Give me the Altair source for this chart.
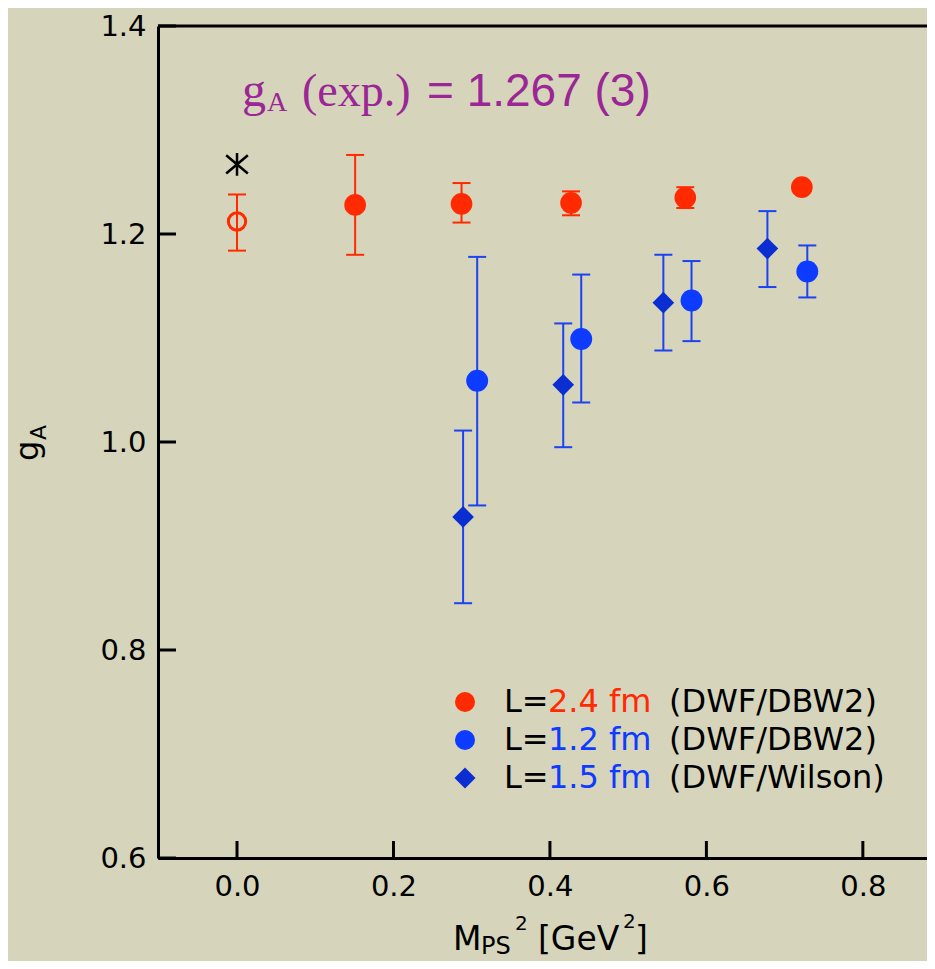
import altair as alt
import pandas as pd

# ---------------- data ----------------
red_x = [0.151, 0.287, 0.427, 0.573, 0.722]
red_y = [1.228, 1.229, 1.230, 1.235, 1.245]
red_lo = [1.180, 1.211, 1.218, 1.225, 1.245]
red_hi = [1.276, 1.249, 1.241, 1.245, 1.245]

extrap_x = [0.0]
extrap_y = [1.212]
extrap_lo = [1.184]
extrap_hi = [1.238]

exp_x = [0.0]
exp_y = [1.267]

blue_x = [0.307, 0.440, 0.581, 0.729]
blue_y = [1.059, 1.099, 1.136, 1.164]
blue_lo = [0.939, 1.038, 1.097, 1.139]
blue_hi = [1.178, 1.161, 1.174, 1.189]

dia_x = [0.289, 0.417, 0.545, 0.678]
dia_y = [0.928, 1.055, 1.134, 1.186]
dia_lo = [0.845, 0.995, 1.088, 1.149]
dia_hi = [1.011, 1.114, 1.180, 1.222]

x_ticks = [0.0, 0.2, 0.4, 0.6, 0.8]
y_ticks = [0.6, 0.8, 1.0, 1.2, 1.4]

# ---------------- layout ----------------
PL, PT = 158, 26          # page position of plot origin
W, H = 769, 832
X_DOM = [-0.101, 0.882]
Y_DOM = [0.6, 1.4]

RED = "#ff2a00"
BLUE = "#0d3bff"
BLUE_BAR = "#1c42f2"
DIA = "#0a2ed2"
PURPLE = "#9a2795"
BG = "#d6d5bb"
SANS = "DejaVu Sans"

xs = alt.Scale(domain=X_DOM, nice=False, zero=False)
ys = alt.Scale(domain=Y_DOM, nice=False, zero=False)

def frame(xv, yv, lo, hi):
    return pd.DataFrame({"x": xv, "y": yv, "lo": lo, "hi": hi})

red_df = frame(red_x, red_y, red_lo, red_hi)
ext_df = frame(extrap_x, extrap_y, extrap_lo, extrap_hi)
blue_df = frame(blue_x, blue_y, blue_lo, blue_hi)
dia_df = frame(dia_x, dia_y, dia_lo, dia_hi)
exp_df = pd.DataFrame({"x": exp_x, "y": exp_y})

# base layer carrying the axes
base = alt.Chart(red_df).mark_point(opacity=0).encode(
    x=alt.X("x:Q", scale=xs, axis=alt.Axis(
        values=x_ticks, format=".1f", ticks=False, grid=False,
        domainColor="black", domainWidth=3, labelFont=SANS, labelFontSize=29,
        labelColor="black", labelPadding=14, labelFlush=False, labelOverlap=False,
        title=None)),
    y=alt.Y("y:Q", scale=ys, axis=alt.Axis(
        values=y_ticks, format=".1f", ticks=False, grid=False,
        domainColor="black", domainWidth=3, labelFont=SANS, labelFontSize=29,
        labelColor="black", labelPadding=12, labelFlush=False, labelOverlap=False,
        title=None)),
)

# top border and inward ticks
top = alt.Chart(pd.DataFrame({"a": [X_DOM[0]], "b": [X_DOM[1]], "y": [Y_DOM[1]]})).mark_rule(
    color="black", strokeWidth=3).encode(
    x=alt.X("a:Q", scale=xs), x2="b:Q", y=alt.Y("y:Q", scale=ys))

xt = alt.Chart(pd.DataFrame({"t": x_ticks})).mark_rule(color="black", strokeWidth=3).encode(
    x=alt.X("t:Q", scale=xs), y=alt.value(H), y2=alt.value(H - 17))
yt = alt.Chart(pd.DataFrame({"t": y_ticks})).mark_rule(color="black", strokeWidth=3).encode(
    y=alt.Y("t:Q", scale=ys), x=alt.value(0), x2=alt.value(18))

def errbars(df, color):
    bar = alt.Chart(df).mark_rule(color=color, strokeWidth=2).encode(
        x=alt.X("x:Q", scale=xs), y=alt.Y("lo:Q", scale=ys), y2="hi:Q")
    cap_lo = alt.Chart(df).mark_tick(color=color, orient="horizontal", size=18, thickness=2, opacity=1).encode(
        x=alt.X("x:Q", scale=xs), y=alt.Y("lo:Q", scale=ys))
    cap_hi = alt.Chart(df).mark_tick(color=color, orient="horizontal", size=18, thickness=2, opacity=1).encode(
        x=alt.X("x:Q", scale=xs), y=alt.Y("hi:Q", scale=ys))
    return [bar, cap_lo, cap_hi]

def points(df, color, shape, size, filled=True, sw=0):
    return alt.Chart(df).mark_point(shape=shape, filled=filled, size=size, color=color,
                                    opacity=1, strokeWidth=sw).encode(
        x=alt.X("x:Q", scale=xs), y=alt.Y("y:Q", scale=ys))

ASTER = "M0,-1L0,1M-0.95,-0.8L0.95,0.8M-0.95,0.8L0.95,-0.8"

layers = [base, top, xt, yt]
layers += errbars(red_df, RED) + errbars(ext_df, RED) + errbars(blue_df, BLUE_BAR) + errbars(dia_df, BLUE_BAR)
layers += [
    points(red_df, RED, "circle", 470),
    points(blue_df, BLUE, "circle", 480),
    points(dia_df, DIA, "diamond", 470),
    points(ext_df, RED, "circle", 300, filled=False, sw=3),
    points(exp_df, "black", ASTER, 520, filled=False, sw=2.5),
]

def txt(s, px, py, size, color="black", font=SANS, angle=0, baseline="alphabetic"):
    return alt.Chart(pd.DataFrame({"label": [s]})).mark_text(
        align="left", baseline=baseline, font=font, fontSize=size, color=color, angle=angle
    ).encode(x=alt.value(px - PL), y=alt.value(py - PT), text="label:N")

# title annotation
layers += [
    txt("g", 242, 106, 48, PURPLE, "Liberation Serif"),
    txt("A", 267, 111, 28, PURPLE, "Liberation Serif"),
    txt("(exp.)", 302, 106, 46, PURPLE, "Liberation Serif"),
    txt("= 1.267 (3)", 427, 106, 46, PURPLE, "Liberation Sans"),
]

# legend
def legend_marker(shape, size, color, py):
    return alt.Chart(pd.DataFrame({"k": [0]})).mark_point(
        shape=shape, filled=True, size=size, color=color, opacity=1
    ).encode(x=alt.value(465 - PL), y=alt.value(py - PT))

layers += [
    legend_marker("circle", 400, RED, 702),
    legend_marker("circle", 400, BLUE, 740),
    legend_marker("diamond", 440, DIA, 778),
]
rows = [("2.4 fm", RED, "(DWF/DBW2)", 712), ("1.2 fm", BLUE, "(DWF/DBW2)", 750), ("1.5 fm", BLUE, "(DWF/Wilson)", 788)]
for mid, col, tail, by in rows:
    layers += [txt("L=", 504, by, 32), txt(mid, 548, by, 32, col), txt(tail, 669, by, 32)]

# x-axis title pieces: M_PS^2 [GeV^2]
layers += [
    txt("M", 453, 950, 33),
    txt("PS", 481, 954, 24),
    txt("2", 515, 930, 20),
    txt("[GeV", 538, 950, 33),
    txt("2", 623, 928, 20),
    txt("]", 635, 950, 33),
]
# y-axis title pieces: g_A (rotated)
layers += [
    txt("g", 38, 461, 32, angle=270),
    txt("A", 46, 440, 22, angle=270),
]

chart = alt.layer(*layers).properties(
    width=W, height=H,
    padding={"left": 150, "top": 18, "right": 0, "bottom": 103},
    autosize=alt.AutoSizeParams(type="none"),
    background=BG,
).configure_view(stroke=None, fill=BG)

chart.save("out.html", embed_options={"renderer": "svg", "actions": False})
